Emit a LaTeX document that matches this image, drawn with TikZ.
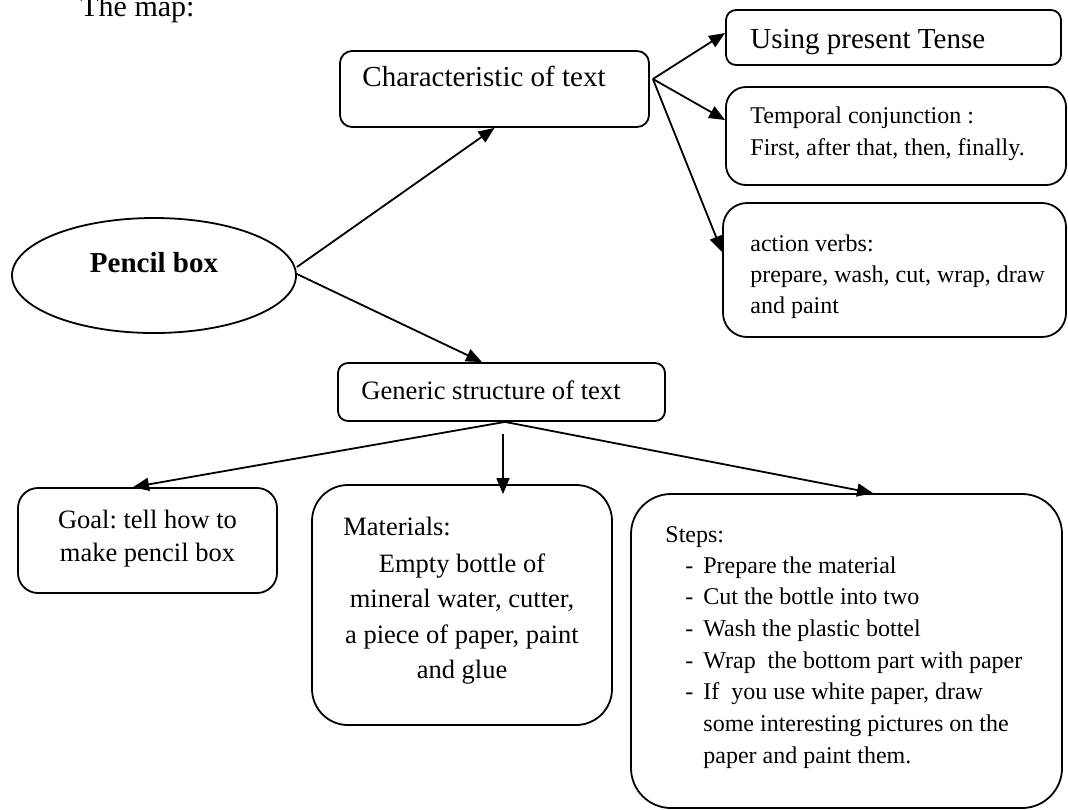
\documentclass[tikz,border=0pt]{standalone}
\usepackage{fontspec}
\setmainfont{Liberation Serif}
\usetikzlibrary{arrows.meta,shapes.geometric}
% multi-line block: size, line distance, column spec, rows
\newcommand\mlines[4]{{\fontsize{#1}{#2}\selectfont\begin{tabular}[t]{@{}#3@{}}#4\end{tabular}}}
\newcommand\dashitem{\makebox[9pt][l]{-}}
\frenchspacing
\begin{document}
\begin{tikzpicture}[x=0.5pt,y=-0.5pt,
  box/.style={draw, line width=0.9pt, inner sep=0pt},
  lbl/.style={inner sep=0pt, anchor=base west},
  arr/.style={line width=0.9pt, -{Triangle[length=8pt,width=6.5pt]}}]
\useasboundingbox (0,0) rectangle (1068,809);

% title
\node[lbl, font=\fontsize{15}{18}\selectfont] (title) at (80,16) {The map:};

% central topic
\node[box, ellipse, minimum width=142pt, minimum height=57.5pt] (pencil) at (154,275.5) {};
\node[inner sep=0pt, anchor=base, font=\fontsize{14.5}{17}\selectfont\bfseries] (pencilT) at (154,272) {Pencil box};

% characteristic branch
\node[box, rounded corners=6pt, minimum width=154.5pt, minimum height=38pt] (char) at (494.5,89) {};
\node[lbl, font=\fontsize{14.5}{17}\selectfont] (charT) at (362,86) {Characteristic of text};

\node[box, rounded corners=5pt, minimum width=167.5pt, minimum height=27.5pt] (using) at (893.5,37.5) {};
\node[lbl, font=\fontsize{14.5}{17}\selectfont] (usingT) at (750,48) {Using present Tense};

\node[box, rounded corners=10pt, minimum width=170pt, minimum height=49pt] (temp) at (896,136) {};
\node[lbl] (tempT) at (750,123) {\mlines{12}{16}{l}{Temporal conjunction :\\First, after that, then, finally.}};

\node[box, rounded corners=12pt, minimum width=171.5pt, minimum height=67pt] (act) at (894.5,270) {};
\node[lbl] (actT) at (750,251) {\mlines{12}{15.5}{l}{action verbs:\\prepare, wash, cut, wrap, draw\\and paint}};

% generic structure branch
\node[box, rounded corners=5pt, minimum width=163.5pt, minimum height=29pt] (gen) at (501.5,392) {};
\node[lbl, font=\fontsize{13.3}{16}\selectfont] (genT) at (361,399) {Generic structure of text};

\node[box, rounded corners=10pt, minimum width=129.5pt, minimum height=52.5pt] (goal) at (147.5,540.5) {};
\node[inner sep=0pt, anchor=base] (goalT) at (147.5,528) {\mlines{13.25}{16.5}{c}{Goal: tell how to\\make pencil box}};

\node[box, rounded corners=18pt, minimum width=150pt, minimum height=120pt] (mat) at (462,605) {};
\node[lbl, font=\fontsize{13.25}{16}\selectfont] (matH) at (343,535) {Materials:};
\node[inner sep=0pt, anchor=base] (matT) at (462,572) {\mlines{13.25}{17.75}{c}{Empty bottle of\\mineral water, cutter,\\a piece of paper, paint\\and glue}};

\node[box, rounded corners=20pt, minimum width=215.5pt, minimum height=157pt] (steps) at (846.5,651) {};
\node[lbl, font=\fontsize{12}{15}\selectfont] (stepsH) at (665,542) {Steps:};
\node[lbl] (stepsT) at (685,573) {\mlines{12}{15.85}{l}{%
  \dashitem Prepare the material\\
  \dashitem Cut the bottle into two\\
  \dashitem Wash the plastic bottel\\
  \dashitem Wrap\ \ the bottom part with paper\\
  \dashitem If\ \ you use white paper, draw\\
  \hspace{9pt}some interesting pictures on the\\
  \hspace{9pt}paper and paint them.}};

% connectors
\coordinate (fork) at ([xshift=1.5pt,yshift=5pt]char.east);
\draw[arr] ([yshift=4.25pt]pencil.east) -- (char.south);
\draw[arr] ([yshift=0.75pt]pencil.east) -- ([xshift=-9.75pt]gen.north);
\draw[arr] (fork) -- ([yshift=2.25pt]using.west);
\draw[arr] (fork) -- ([yshift=8pt]temp.west);
\draw[arr] (fork) -- ([yshift=9pt]act.west);
\draw[arr] ([xshift=1.75pt]gen.south) -- ([xshift=-7.25pt]goal.north);
\draw[arr] ([xshift=0.75pt,yshift=-6pt]gen.south) -- ([xshift=20.5pt,yshift=-5pt]mat.north);
\draw[arr] ([xshift=1.75pt]gen.south) -- ([xshift=13.25pt]steps.north);
\end{tikzpicture}
\end{document}
